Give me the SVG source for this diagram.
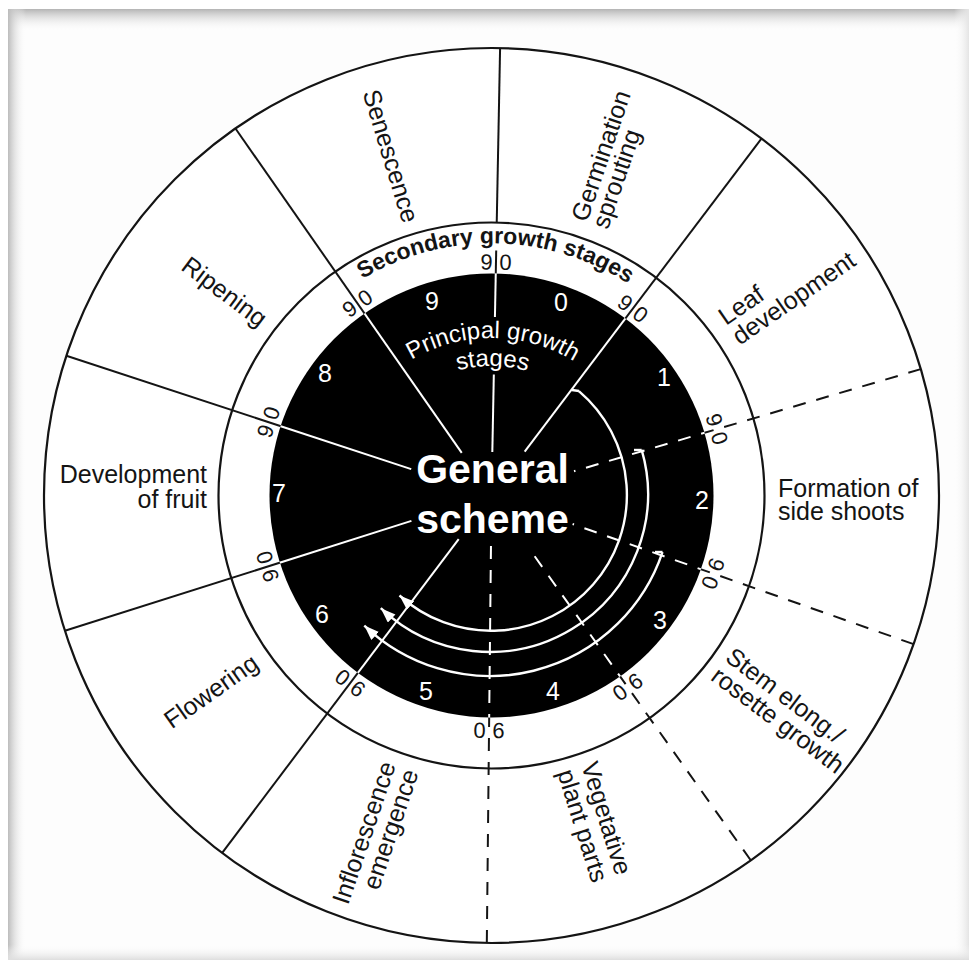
<svg xmlns="http://www.w3.org/2000/svg" width="969" height="960" viewBox="0 0 969 960">
<defs>
<style>
text{font-family:"Liberation Sans",Arial,Helvetica,sans-serif;}
.lab{font-size:25px;fill:#141414;}
.sec{font-size:22px;fill:#141414;text-anchor:middle;}
.pn{font-size:25px;fill:#ffffff;text-anchor:middle;}
.blk{stroke:#141414;stroke-width:2;fill:none;}
.wht{stroke:#ffffff;stroke-width:2;fill:none;}
.dsh{stroke-dasharray:13 11;}
.arc{stroke:#ffffff;stroke-width:2.4;fill:none;}
</style>
<linearGradient id="gTop" x1="0" y1="0" x2="0" y2="1"><stop offset="0" stop-color="#b4b4b4"/><stop offset="1" stop-color="#fdfdfd" stop-opacity="0"/></linearGradient>
<linearGradient id="gLeft" x1="0" y1="0" x2="1" y2="0"><stop offset="0" stop-color="#bcbcbc"/><stop offset="1" stop-color="#fdfdfd" stop-opacity="0"/></linearGradient>
<linearGradient id="gRight" x1="0" y1="0" x2="1" y2="0"><stop offset="0" stop-color="#fdfdfd" stop-opacity="0"/><stop offset="1" stop-color="#e4e4e4"/></linearGradient>
<linearGradient id="gBot" x1="0" y1="0" x2="0" y2="1"><stop offset="0" stop-color="#fdfdfd" stop-opacity="0"/><stop offset="1" stop-color="#dedede"/></linearGradient>
<clipPath id="disc"><circle cx="491.5" cy="495.5" r="222"/></clipPath>
<clipPath id="outside"><path clip-rule="evenodd" d="M0,0H969V960H0Z M269.5,495.5 A222,222 0 1 0 713.5,495.5 A222,222 0 1 0 269.5,495.5 Z"/></clipPath>
<marker id="ah" markerUnits="userSpaceOnUse" markerWidth="16" markerHeight="12" refX="15" refY="5.5" orient="auto"><path d="M0,0 L15,5.5 L0,11 Z" fill="#ffffff"/></marker>
<path id="secArc" d="M243.3,451.74 A252,252 0 0 1 741.05,460.43"/>
<path id="prArc" d="M336.89,465.45 A157.5,157.5 0 0 1 646.61,468.15"/>
<path id="stArc" d="M364.39,470.79 A129.5,129.5 0 0 1 619.03,473.01"/>
</defs>

<!-- page background and frame shadow -->
<rect width="969" height="960" fill="#ffffff"/>
<rect x="8" y="9" width="961" height="951" fill="#fdfdfd"/>
<rect x="8" y="9" width="961" height="22" fill="url(#gTop)"/>
<rect x="8" y="9" width="18" height="951" fill="url(#gLeft)"/>
<rect x="954" y="9" width="15" height="951" fill="url(#gRight)"/>
<rect x="8" y="945" width="961" height="15" fill="url(#gBot)"/>

<!-- rings -->
<g id="rings">
<circle cx="491.5" cy="495.5" r="447.5" fill="#ffffff" stroke="#141414" stroke-width="2.2"/>
<circle cx="491.5" cy="495.5" r="273" fill="none" stroke="#141414" stroke-width="2.2"/>
<circle cx="491.5" cy="495.5" r="222" fill="#000000"/>
</g>

<!-- connectors: stage dividers and arrows -->
<g id="connectors">
<g class="blk" clip-path="url(#outside)">
<g transform="translate(491.5 495.5)">
<line transform="rotate(1.1)" x1="0" y1="-447.5" x2="0" y2="-273"/>
<line transform="rotate(1.1)" x1="0" y1="-245" x2="0" y2="-222"/>
<line transform="rotate(37.1)" x1="0" y1="-447.5" x2="0" y2="-55"/>
<line class="dsh" transform="rotate(73.6)" x1="0" y1="-447.5" x2="0" y2="-86"/>
<line class="dsh" transform="rotate(109.4)" x1="0" y1="-447.5" x2="0" y2="-86"/>
<line class="dsh" transform="rotate(144.6)" x1="0" y1="-447.5" x2="0" y2="-64"/>
<line class="dsh" transform="rotate(180.6)" x1="0" y1="-447.5" x2="0" y2="-44.5"/>
<line transform="rotate(217)" x1="0" y1="-447.5" x2="0" y2="-54.5"/>
<line transform="rotate(252.4)" x1="0" y1="-447.5" x2="0" y2="-84"/>
<line transform="rotate(288.2)" x1="0" y1="-447.5" x2="0" y2="-84.5"/>
<line transform="rotate(325.1)" x1="0" y1="-447.5" x2="0" y2="-52"/>
</g>
</g>
<g class="wht" clip-path="url(#disc)">
<g transform="translate(491.5 495.5)">
<line transform="rotate(1.1)" x1="0" y1="-230" x2="0" y2="-178.5"/>
<line transform="rotate(1.1)" x1="0" y1="-121" x2="0" y2="-43.5"/>
<line transform="rotate(37.1)" x1="0" y1="-447.5" x2="0" y2="-55"/>
<line class="dsh" transform="rotate(73.6)" x1="0" y1="-447.5" x2="0" y2="-86"/>
<line class="dsh" transform="rotate(109.4)" x1="0" y1="-447.5" x2="0" y2="-86"/>
<line class="dsh" transform="rotate(144.6)" x1="0" y1="-447.5" x2="0" y2="-64"/>
<line class="dsh" transform="rotate(180.6)" x1="0" y1="-447.5" x2="0" y2="-44.5"/>
<line transform="rotate(217)" x1="0" y1="-447.5" x2="0" y2="-54.5"/>
<line transform="rotate(252.4)" x1="0" y1="-447.5" x2="0" y2="-84"/>
<line transform="rotate(288.2)" x1="0" y1="-447.5" x2="0" y2="-84.5"/>
<line transform="rotate(325.1)" x1="0" y1="-447.5" x2="0" y2="-52"/>
</g>
</g>
<g id="arrows">
<path class="arc" d="M572,390 L579,391"/>
<path class="arc" d="M578.9,391.1 A136,136 0 1 1 399.5,595.5" marker-end="url(#ah)"/>
<path class="arc" d="M634,450 L641.7,450"/>
<path class="arc" d="M641.7,449.9 A158,158 0 0 1 380.8,608.2" marker-end="url(#ah)"/>
<path class="arc" d="M655,552 L662.5,552"/>
<path class="arc" d="M662.5,552.1 A182,182 0 0 1 364.3,625.6" marker-end="url(#ah)"/>
</g>
</g>

<!-- ring titles -->
<g id="titles">
<text font-size="23" font-weight="bold" fill="#141414"><textPath href="#secArc" startOffset="50%" text-anchor="middle">Secondary growth stages</textPath></text>
<text font-size="24" fill="#ffffff"><textPath href="#prArc" startOffset="50%" text-anchor="middle">Principal growth</textPath></text>
<text font-size="24" fill="#ffffff"><textPath href="#stArc" startOffset="50%" text-anchor="middle">stages</textPath></text>
</g>

<g id="center">
<text x="492.5" y="483" font-size="41" font-weight="bold" fill="#ffffff" text-anchor="middle">General</text>
<text x="492.5" y="533" font-size="41" font-weight="bold" fill="#ffffff" text-anchor="middle">scheme</text>
</g>

<!-- secondary stage marks at each divider -->
<g id="secondary-marks" class="sec">
<g transform="translate(491.5 495.5) rotate(1.1)"><text x="-9.5" y="-233.5" dy="0.35em">9</text><text x="9.5" y="-233.5" dy="0.35em">0</text></g>
<g transform="translate(491.5 495.5) rotate(37.1)"><text x="-9.5" y="-234.5" dy="0.35em">9</text><text x="9.5" y="-234.5" dy="0.35em">0</text></g>
<g transform="translate(491.5 495.5) rotate(73.6)"><text x="-9.5" y="-235" dy="0.35em">9</text><text x="9.5" y="-235" dy="0.35em">0</text></g>
<g transform="translate(491.5 495.5) rotate(109.4)"><text x="-9.5" y="-235" dy="0.35em">9</text><text x="9.5" y="-235" dy="0.35em">0</text></g>
<g transform="translate(491.5 495.5) rotate(144.6)"><text x="-9.5" y="-235" dy="0.35em">9</text><text x="9.5" y="-235" dy="0.35em">0</text></g>
<g transform="translate(491.5 495.5) rotate(180.6)"><text x="-9.5" y="-235" dy="0.35em">9</text><text x="9.5" y="-235" dy="0.35em">0</text></g>
<g transform="translate(491.5 495.5) rotate(217)"><text x="-9.5" y="-235" dy="0.35em">9</text><text x="9.5" y="-235" dy="0.35em">0</text></g>
<g transform="translate(491.5 495.5) rotate(252.4)"><text x="-9.5" y="-235" dy="0.35em">9</text><text x="9.5" y="-235" dy="0.35em">0</text></g>
<g transform="translate(491.5 495.5) rotate(288.2)"><text x="-9.5" y="-235" dy="0.35em">9</text><text x="9.5" y="-235" dy="0.35em">0</text></g>
<g transform="translate(491.5 495.5) rotate(325.1)"><text x="-9.5" y="-234.5" dy="0.35em">9</text><text x="9.5" y="-234.5" dy="0.35em">0</text></g>
</g>

<!-- principal stage numbers -->
<g id="principal-stages" class="pn">
<text id="p0" x="561" y="302" dy="0.36em">0</text>
<text id="p1" x="664" y="377" dy="0.36em">1</text>
<text id="p2" x="702" y="500" dy="0.36em">2</text>
<text id="p3" x="660" y="620" dy="0.36em">3</text>
<text id="p4" x="553" y="691" dy="0.36em">4</text>
<text id="p5" x="426" y="691" dy="0.36em">5</text>
<text id="p6" x="322" y="614" dy="0.36em">6</text>
<text id="p7" x="279" y="493" dy="0.36em">7</text>
<text id="p8" x="325" y="373" dy="0.36em">8</text>
<text id="p9" x="432" y="301" dy="0.36em">9</text>
</g>

<!-- outer stage labels -->
<g id="n-germination" class="lab" transform="translate(587 223) rotate(-71.1)"><text x="0" y="0">Germination</text><text x="0" y="22">sprouting</text></g>
<g id="n-leaf" class="lab" transform="translate(726 326) rotate(-34.65)"><text x="0" y="0">Leaf</text><text x="0" y="24">development</text></g>
<g id="n-sideshoots" class="lab"><text x="778" y="497">Formation of</text><text x="778" y="520">side shoots</text></g>
<g id="n-stem" class="lab" transform="translate(724 660) rotate(37)"><text x="0" y="0">Stem elong./</text><text x="0" y="24">rosette growth</text></g>
<g id="n-vegetative" class="lab" transform="translate(581 765) rotate(72.6)"><text x="0" y="0">Vegetative</text><text x="0" y="25">plant parts</text></g>
<g id="n-inflorescence" class="lab" transform="translate(396 765) rotate(-71.2)" text-anchor="end"><text x="0" y="0">Inflorescence</text><text x="0" y="24">emergence</text></g>
<g id="n-flowering" class="lab"><text transform="translate(211 691) rotate(-35.25)" text-anchor="middle" dy="0.35em">Flowering</text></g>
<g id="n-fruit" class="lab" text-anchor="end"><text x="207" y="483">Development</text><text x="207" y="508">of fruit</text></g>
<g id="n-ripening" class="lab"><text transform="translate(224.5 291.5) rotate(36.7)" text-anchor="middle" dy="0.35em">Ripening</text></g>
<g id="n-senescence" class="lab"><text transform="translate(391 156) rotate(73)" text-anchor="middle" dy="0.35em">Senescence</text></g>
</svg>
